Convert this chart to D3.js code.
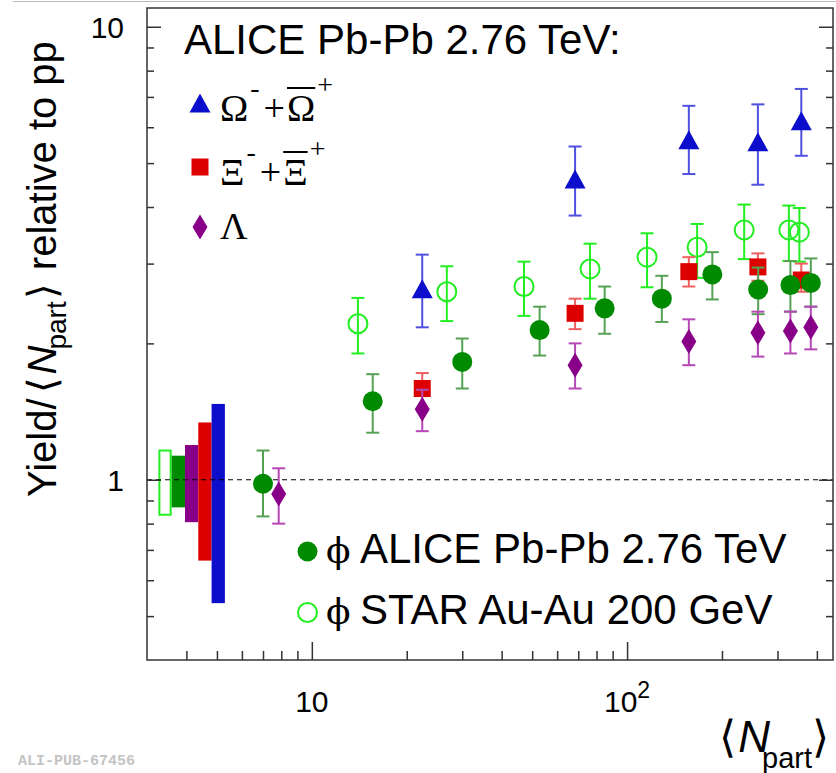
<!DOCTYPE html>
<html>
<head>
<meta charset="utf-8">
<script src="https://cdn.jsdelivr.net/npm/d3@7"></script>
<style>
  body { margin: 0; background: #fff; }
  svg { display: block; }
</style>
</head>
<body>
<div class="chart"></div>
<script>
// ALICE phi
const phiAliceNpart = [7.0, 15.6, 30.0, 52.8, 84.9, 128.9, 186.4, 260.5, 329.7, 382.7];
const phiAliceY  = [0.98, 1.49, 1.82, 2.14, 2.39, 2.51, 2.84, 2.63, 2.69, 2.72];
const phiAliceLo = [0.83, 1.27, 1.59, 1.88, 2.10, 2.23, 2.50, 2.32, 2.35, 2.41];
const phiAliceHi = [1.16, 1.71, 2.05, 2.41, 2.67, 2.82, 3.18, 2.94, 3.04, 3.08];

// STAR phi
const phiStarNpart = [14.0, 26.8, 47.1, 76.3, 115.7, 166.8, 235.2, 326, 352];
const phiStarY  = [2.21, 2.60, 2.67, 2.92, 3.10, 3.26, 3.56, 3.56, 3.52];
const phiStarLo = [1.90, 2.24, 2.30, 2.51, 2.66, 2.79, 3.07, 3.04, 3.03];
const phiStarHi = [2.52, 2.96, 3.03, 3.32, 3.50, 3.67, 4.05, 4.03, 3.98];

// Omega
const omegaNpart = [22.4, 68.4, 157, 260, 357];
const omegaY  = [2.64, 4.61, 5.63, 5.57, 6.20];
const omegaLo = [2.17, 3.83, 4.73, 4.48, 5.19];
const omegaHi = [3.14, 5.44, 6.69, 6.74, 7.29];

// Xi
const xiNpart = [22.4, 68.4, 157, 260, 357];
const xiY  = [1.59, 2.33, 2.88, 2.95, 2.76];
const xiLo = [1.53, 2.15, 2.67, 2.75, 2.60];
const xiHi = [1.72, 2.51, 3.10, 3.16, 3.00];

// Lambda
const lambdaNpart = [7.85, 22.4, 68.4, 157, 260, 329.7, 382.7];
const lambdaY  = [0.93, 1.43, 1.79, 2.02, 2.11, 2.13, 2.17];
const lambdaLo = [0.80, 1.28, 1.59, 1.79, 1.87, 1.90, 1.94];
const lambdaHi = [1.06, 1.58, 2.00, 2.26, 2.35, 2.35, 2.41];

// normalisation uncertainty boxes: STAR phi, ALICE phi, Lambda, Xi, Omega
const normNames = ["starPhi", "alicePhi", "lambda", "xi", "omega"];
const normLo = [0.837, 0.869, 0.806, 0.663, 0.534];
const normHi = [1.160, 1.130, 1.193, 1.338, 1.470];

const xMajor = [10, 100];
const xMinor = [4, 5, 6, 7, 8, 9, 20, 30, 40, 50, 60, 70, 80, 90, 200, 300, 400];
const yMajor = [1, 10];
const yMinor = [0.5, 0.6, 0.7, 0.8, 0.9, 2, 3, 4, 5, 6, 7, 8, 9];

const colors = {
    omega: "#0d0dcc", omegaErr: "#5050e0",
    xi: "#dd0000", xiErr: "#ee6060",
    lambda: "#880088", lambdaErr: "#b548b5",
    alicePhi: "#008a00", alicePhiErr: "#55a255",
    starPhi: "#22ee22", starPhiErr: "#22ee22"
};

const W = 836, H = 773;
const margin = {top: 8, right: 3, bottom: 113, left: 147};
const width = W - margin.left - margin.right,
      height = H - margin.top - margin.bottom;

const svg = d3.select(".chart")
    .append("svg")
        .attr("width", W)
        .attr("height", H);

// thin grey border line at the top of the screenshot
svg.append("line")
    .attr("x1", 13).attr("x2", W).attr("y1", 1.5).attr("y2", 1.5)
    .attr("stroke", "#bbb").attr("stroke-width", 1);

const g = svg.append("g")
    .attr("transform", "translate(" + margin.left + "," + margin.top + ")");

const x = d3.scaleLog().domain([3, 450]).range([0, width]);
const y = d3.scaleLog().domain([0.4, 11.0]).range([height, 0]);

// normalisation boxes
const boxW = 13.3, boxX0 = x(3.26);
g.selectAll("rect.norm")
    .data(normNames)
    .enter()
    .append("rect")
        .attr("class", "norm")
        .attr("x", (d, i) => boxX0 + i * boxW + (i == 0 ? 1 : 0))
        .attr("y", (d, i) => y(normHi[i]))
        .attr("width", (d, i) => i == 0 ? boxW - 2 : boxW)
        .attr("height", (d, i) => y(normLo[i]) - y(normHi[i]))
        .attr("fill", (d, i) => i == 0 ? "#fff" : colors[d])
        .attr("stroke", (d, i) => i == 0 ? colors.starPhi : "none")
        .attr("stroke-width", 2);

// dashed line at 1
g.append("line")
    .attr("x1", 0).attr("x2", width)
    .attr("y1", y(1)).attr("y2", y(1))
    .attr("stroke", "#000").attr("stroke-width", 1.2)
    .attr("stroke-dasharray", "5,4");

function series(xs, ys, lo, hi) {
    return xs.map((v, i) => ({x: v, y: ys[i], lo: lo[i], hi: hi[i]}));
}

const triPath = "M0,-9.5L10.5,9.5L-10.5,9.5Z";
const sqPath = "M-8.5,-8.5H8.5V8.5H-8.5Z";
const diaPath = "M0,-12.5L7.5,0L0,12.5L-7.5,0Z";

function drawSeries(data, errColor, marker) {
    const s = g.append("g");
    const eb = s.selectAll("g.err").data(data).enter().append("g")
        .attr("stroke", errColor).attr("stroke-width", 2);
    eb.append("line")
        .attr("x1", d => x(d.x)).attr("x2", d => x(d.x))
        .attr("y1", d => y(d.lo)).attr("y2", d => y(d.hi));
    eb.append("line")
        .attr("x1", d => x(d.x) - 6.5).attr("x2", d => x(d.x) + 6.5)
        .attr("y1", d => y(d.lo)).attr("y2", d => y(d.lo));
    eb.append("line")
        .attr("x1", d => x(d.x) - 6.5).attr("x2", d => x(d.x) + 6.5)
        .attr("y1", d => y(d.hi)).attr("y2", d => y(d.hi));
    marker(s.selectAll("m").data(data).enter());
}

drawSeries(series(phiStarNpart, phiStarY, phiStarLo, phiStarHi), colors.starPhiErr, sel =>
    sel.append("circle")
        .attr("cx", d => x(d.x)).attr("cy", d => y(d.y)).attr("r", 9.5)
        .attr("fill", "none").attr("stroke", colors.starPhi).attr("stroke-width", 2));

drawSeries(series(omegaNpart, omegaY, omegaLo, omegaHi), colors.omegaErr, sel =>
    sel.append("path")
        .attr("d", triPath)
        .attr("transform", d => "translate(" + x(d.x) + "," + y(d.y) + ")")
        .attr("fill", colors.omega));

drawSeries(series(xiNpart, xiY, xiLo, xiHi), colors.xiErr, sel =>
    sel.append("path")
        .attr("d", sqPath)
        .attr("transform", d => "translate(" + x(d.x) + "," + y(d.y) + ")")
        .attr("fill", colors.xi));

drawSeries(series(phiAliceNpart, phiAliceY, phiAliceLo, phiAliceHi), colors.alicePhiErr, sel =>
    sel.append("circle")
        .attr("cx", d => x(d.x)).attr("cy", d => y(d.y)).attr("r", 10)
        .attr("fill", colors.alicePhi));

drawSeries(series(lambdaNpart, lambdaY, lambdaLo, lambdaHi), colors.lambdaErr, sel =>
    sel.append("path")
        .attr("d", diaPath)
        .attr("transform", d => "translate(" + x(d.x) + "," + y(d.y) + ")")
        .attr("fill", colors.lambda));

// axes: ticks point inward
const axisColor = "#333";
function styleAxis(sel) {
    sel.select(".domain").remove();
    sel.selectAll("line").attr("stroke", axisColor).attr("stroke-width", 1.5);
    sel.selectAll("text").remove();
}
g.append("g").attr("transform", "translate(0," + height + ")")
    .call(d3.axisBottom(x).tickValues(xMajor).tickSize(-18)).call(styleAxis);
g.append("g").attr("transform", "translate(0," + height + ")")
    .call(d3.axisBottom(x).tickValues(xMinor).tickSize(-9)).call(styleAxis);
g.append("g").call(d3.axisLeft(y).tickValues(yMajor).tickSize(-14)).call(styleAxis);
g.append("g").call(d3.axisLeft(y).tickValues(yMinor).tickSize(-7)).call(styleAxis);
g.append("g").attr("transform", "translate(" + width + ",0)")
    .call(d3.axisRight(y).tickValues(yMajor).tickSize(-14)).call(styleAxis);
g.append("g").attr("transform", "translate(" + width + ",0)")
    .call(d3.axisRight(y).tickValues(yMinor).tickSize(-7)).call(styleAxis);

// frame
g.append("rect")
    .attr("width", width).attr("height", height)
    .attr("fill", "none").attr("stroke", axisColor).attr("stroke-width", 1.5);

const sans = "'Liberation Sans', Arial, Helvetica, sans-serif";
const serif = "'Liberation Serif', 'Times New Roman', serif";

// tick labels
g.selectAll("text.ylab").data(yMajor).enter().append("text")
    .attr("x", -23).attr("y", d => y(d) + 11)
    .attr("text-anchor", "end")
    .style("font-family", sans).style("font-size", "30px")
    .text(d => d);

const xl = g.selectAll("text.xlab").data(xMajor).enter().append("text")
    .attr("x", d => x(d)).attr("y", height + 52)
    .attr("text-anchor", "middle")
    .style("font-family", sans).style("font-size", "30px");
xl.append("tspan").text("10");
xl.filter(d => d == 100).append("tspan")
    .attr("dy", -14).style("font-size", "23px").text("2");

// axis titles
const xt = svg.append("text")
    .attr("x", 829).attr("y", 752)
    .attr("text-anchor", "end")
    .style("font-family", sans).style("font-size", "44px");
xt.append("tspan").style("font-family", "'DejaVu Sans'").style("font-weight", 200).text("\u27E8");
xt.append("tspan").style("font-style", "italic").attr("dx", 2).text("N");
xt.append("tspan").attr("dy", 16).attr("dx", -8).style("font-size", "29px").text("part");
xt.append("tspan").attr("dy", -16).style("font-family", "'DejaVu Sans'").style("font-weight", 200).text("\u27E9");

const yt = svg.append("text")
    .attr("transform", "translate(56,497) rotate(-90)")
    .style("font-family", sans).style("font-size", "40px");
yt.append("tspan").text("Yield/");
yt.append("tspan").attr("dx", 5).style("font-family", "'DejaVu Sans'").style("font-weight", 200).text("\u27E8");
yt.append("tspan").attr("dx", 3).style("font-style", "italic").text("N");
yt.append("tspan").attr("dy", 10).attr("dx", -4).style("font-size", "28px").text("part");
yt.append("tspan").attr("dy", -10).attr("dx", 2).style("font-family", "'DejaVu Sans'").style("font-weight", 200).text("\u27E9");
yt.append("tspan").attr("dx", 2).text(" relative to pp");

// top legend
svg.append("text")
    .attr("x", 184).attr("y", 54)
    .style("font-family", sans).style("font-size", "42px")
    .text("ALICE Pb-Pb 2.76 TeV:");

const legTop = [
    {name: "omega", marker: triPath, base: 121, main: "\u03A9"},
    {name: "xi", marker: sqPath, base: 185, main: "\u039E"},
    {name: "lambda", marker: diaPath, base: 239, main: "\u039B"}
];
legTop.forEach(d => {
    svg.append("path").attr("d", d.marker)
        .attr("transform", "translate(200," + (d.base - (d.name == "lambda" ? 12 : 18)) + ")")
        .attr("fill", colors[d.name]);
    const t = svg.append("text")
        .attr("x", 220).attr("y", d.base)
        .style("font-family", serif).style("font-size", "38px");
    t.append("tspan").text(d.main);
    if (d.name == "lambda") return;
    t.append("tspan").attr("dy", -24).attr("dx", 2).style("font-size", "28px").text("-");
    t.append("tspan").attr("dy", 24).attr("dx", 4).text("+");
    t.append("tspan").attr("dx", 2).text(d.main);
    t.append("tspan").attr("dy", -27).attr("dx", 2).style("font-size", "28px").text("+");
    const ext = t.node().getExtentOfChar(3);
    svg.append("line")
        .attr("x1", ext.x).attr("x2", ext.x + ext.width)
        .attr("y1", d.base - 33).attr("y2", d.base - 33)
        .attr("stroke", "#000").attr("stroke-width", 2);
});

// bottom legend
const legBot = [
    {name: "alicePhi", base: 563, label: "ALICE Pb-Pb 2.76 TeV"},
    {name: "starPhi", base: 624, label: "STAR Au-Au 200 GeV"}
];
legBot.forEach(d => {
    const c = svg.append("circle")
        .attr("cx", 307.5).attr("cy", d.base - 11.5).attr("r", d.name == "starPhi" ? 9.5 : 10);
    if (d.name == "starPhi") {
        c.attr("fill", "none").attr("stroke", colors.starPhi).attr("stroke-width", 2);
    } else {
        c.attr("fill", colors.alicePhi);
    }
    svg.append("text")
        .attr("x", 326).attr("y", d.base)
        .style("font-family", "'DejaVu Serif', serif").style("font-size", "36px")
        .text("\u03D5");
    svg.append("text")
        .attr("x", 360).attr("y", d.base)
        .style("font-family", sans).style("font-size", "42px")
        .text(d.label);
});

// watermark
svg.append("text")
    .attr("x", 18).attr("y", 765)
    .style("font-family", "'Liberation Mono', monospace")
    .style("font-weight", "bold").style("font-size", "15px")
    .attr("fill", "#c4c4c4")
    .text("ALI-PUB-67456");
</script>
</body>
</html>
